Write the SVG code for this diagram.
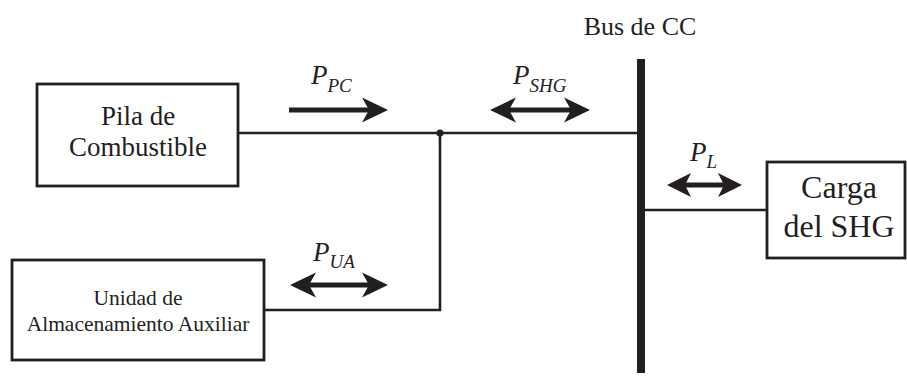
<svg xmlns="http://www.w3.org/2000/svg" width="907" height="380" viewBox="0 0 907 380">
<style>
.box{fill:#fff;stroke:#231f20;stroke-width:2.8}
.ln{fill:none;stroke:#231f20;stroke-width:2.6}
.shaft{fill:none;stroke:#231f20;stroke-width:5}
.head{fill:#231f20;stroke:none}
text{font-family:"Liberation Serif","DejaVu Serif",serif;fill:#231f20}
.t{text-anchor:middle}
.p{font-style:italic;font-size:27px}
.sub{font-size:19px}
</style>
<g id="connectors">
<line class="ln" x1="238" y1="133" x2="640" y2="133"/>
<polyline class="ln" points="264,310 440,310 440,133"/>
<circle cx="440" cy="133" r="3.5" fill="#231f20"/>
<line class="ln" x1="640" y1="210" x2="767" y2="210"/>
<line id="bus" x1="641" y1="59" x2="641" y2="373" stroke="#231f20" stroke-width="8"/>
<g id="arrow-pc">
<line class="shaft" x1="289" y1="110" x2="372" y2="110"/>
<path class="head" d="M388,110 L362,97.5 L369,110 L362,122.5 Z"/>
</g>
<g id="arrow-shg">
<line class="shaft" x1="505" y1="110" x2="575" y2="110"/>
<path class="head" d="M590,110 L564,97.5 L571,110 L564,122.5 Z"/>
<path class="head" d="M490,110 L516,97.5 L509,110 L516,122.5 Z"/>
</g>
<g id="arrow-ua">
<line class="shaft" x1="305" y1="285" x2="373" y2="285"/>
<path class="head" d="M388,285 L362,272.5 L369,285 L362,297.5 Z"/>
<path class="head" d="M290,285 L316,272.5 L309,285 L316,297.5 Z"/>
</g>
<g id="arrow-l">
<line class="shaft" x1="680" y1="185" x2="729" y2="185"/>
<path class="head" d="M742,185 L718,173 L724,185 L718,197 Z"/>
<path class="head" d="M667,185 L691,173 L685,185 L691,197 Z"/>
</g>
</g>
<g id="bus-label"><text class="t" x="640" y="35" font-size="26">Bus de CC</text></g>
<g id="pila">
<rect class="box" x="37" y="84" width="201" height="102"/>
<text class="t" x="138" y="125" font-size="27">Pila de</text>
<text class="t" x="138" y="156" font-size="27">Combustible</text>
</g>
<g id="unidad">
<rect class="box" x="12" y="260" width="252" height="100"/>
<text class="t" x="138" y="305" font-size="21.5">Unidad de</text>
<text class="t" x="138" y="331" font-size="21.5">Almacenamiento Auxiliar</text>
</g>
<g id="carga">
<rect class="box" x="767" y="162" width="138" height="96"/>
<text class="t" x="839" y="198" font-size="32">Carga</text>
<text class="t" x="839" y="237" font-size="32">del SHG</text>
</g>
<g id="labels">
<text class="p" x="311" y="84">P<tspan class="sub" dy="8">PC</tspan></text>
<text class="p" x="513" y="84">P<tspan class="sub" dy="8">SHG</tspan></text>
<text class="p" x="313" y="261">P<tspan class="sub" dy="7">UA</tspan></text>
<text class="p" x="690" y="161">P<tspan class="sub" dy="7">L</tspan></text>
</g>
</svg>
